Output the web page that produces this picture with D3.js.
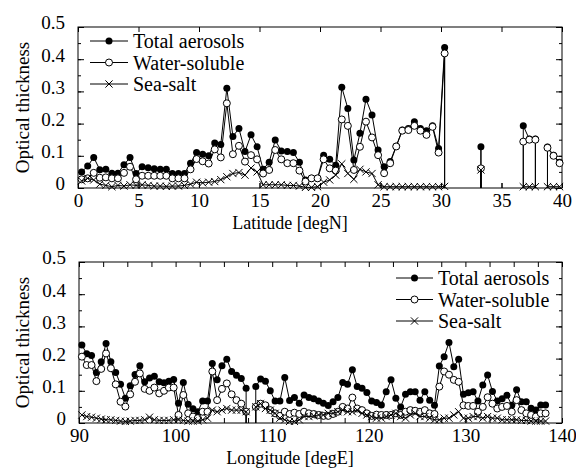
<!DOCTYPE html>
<html>
<head>
<meta charset="utf-8">
<script src="https://cdn.jsdelivr.net/npm/d3@7"></script>
<style>
  body { margin: 0; background: #fff; }
  svg text { font-family: "Liberation Serif", "Times New Roman", serif !important; fill: #000; }
</style>
</head>
<body>
<svg id="chart" width="576" height="475"></svg>
<script>
// ---- data: upper panel (latitude) ----
const latN = [0.3, 0.8, 1.3, 1.8, 2.3, 2.8, 3.3, 3.8, 4.3, 4.8,
  5.3, 5.8, 6.3, 6.8, 7.3, 7.8, 8.3, 8.8, 9.3, 9.8,
  10.3, 10.8, 11.3, 11.8, 12.3, 12.8, 13.3, 13.8, 14.3, 14.8,
  15.3, 15.8, 16.3, 16.8, 17.3, 17.8, 18.3, 18.8, 19.3, 19.8,
  20.3, 20.8, 21.3, 21.8, 22.3, 22.8, 23.3, 23.8, 24.3, 24.8,
  25.3, 25.8, 26.3, 26.8, 27.3, 27.8, 28.3, 28.8, 29.3, 29.8,
  30.3, 33.3, 36.8, 37.3, 37.8, 38.8, 39.3, 39.8];
const totalN = [0.05, 0.068, 0.095, 0.057, 0.058, 0.046, 0.046, 0.072, 0.095, 0.045,
  0.066, 0.063, 0.06, 0.058, 0.058, 0.045, 0.045, 0.045, 0.077, 0.11,
  0.105, 0.1, 0.14, 0.135, 0.31, 0.16, 0.185, 0.113, 0.165, 0.128,
  0.058, 0.08, 0.149, 0.115, 0.113, 0.11, 0.08, 0.025, 0.03, 0.03,
  0.102, 0.089, 0.071, 0.313, 0.247, 0.087, 0.17, 0.276, 0.227, 0.118,
  0.066, 0.082, 0.13, 0.18, 0.185, 0.206, 0.185, 0.178, 0.193, 0.123,
  0.436, 0.128, 0.193, 0.152, 0.152, 0.127, 0.102, 0.08];
const waterN = [0.027, 0.03, 0.047, 0.032, 0.033, 0.03, 0.03, 0.047, 0.066, 0.027,
  0.038, 0.038, 0.038, 0.038, 0.038, 0.03, 0.03, 0.03, 0.058, 0.09,
  0.083, 0.076, 0.12, 0.095, 0.263, 0.105, 0.131, 0.082, 0.102, 0.089,
  0.045, 0.056, 0.118, 0.089, 0.077, 0.077, 0.054, 0.02, 0.03, 0.03,
  0.089, 0.061, 0.054, 0.213, 0.193, 0.056, 0.128, 0.206, 0.157, 0.102,
  0.046, 0.077, 0.129, 0.178, 0.18, 0.193, 0.178, 0.165, 0.19, 0.11,
  0.418, 0.061, 0.144, 0.15, 0.15, 0.125, 0.1, 0.077];
const seaN = [0.022, 0.03, 0.025, 0.012, 0.008, 0.004, 0.008, 0.006, 0.01, 0.008,
  0.01, 0.008, 0.006, 0.006, 0.005, 0.006, 0.006, 0.008, 0.012, 0.018,
  0.016, 0.018, 0.02, 0.026, 0.035, 0.045, 0.048, 0.04, 0.062, 0.05,
  0.01, 0.01, 0.01, 0.01, 0.008, 0.008, 0.006, 0.002, 0.002, 0.004,
  0.018, 0.025, 0.04, 0.075, 0.045, 0.027, 0.058, 0.05, 0.045, 0.01,
  0.004, 0.004, 0.004, 0.004, 0.004, 0.004, 0.004, 0.004, 0.004, 0.004,
  0.005, 0.056, 0.004, 0.004, 0.004, 0.004, 0.004, 0.004];

// ---- data: lower panel (longitude) ----
const lonE = [90.3, 90.8, 91.3, 91.8, 92.3, 92.8, 93.3, 93.8, 94.3, 94.8,
  95.3, 95.8, 96.3, 96.8, 97.3, 97.8, 98.3, 98.8, 99.3, 99.8,
  100.3, 100.8, 101.3, 101.8, 102.3, 102.8, 103.3, 103.8, 104.3, 104.8,
  105.3, 105.8, 106.3, 106.8, 107.3,
  108.3, 108.8, 109.3, 109.8, 110.3, 110.8, 111.3, 111.8, 112.3, 112.8,
  113.3, 113.8, 114.3, 114.8, 115.3, 115.8, 116.3, 116.8, 117.3, 117.8,
  118.3, 118.8, 119.3, 119.8, 120.3, 120.8, 121.3, 121.8, 122.3, 122.8,
  123.3, 123.8, 124.3, 124.8, 125.3, 125.8, 126.3, 126.8, 127.3, 127.8,
  128.3, 128.8, 129.3, 129.8, 130.3, 130.8, 131.3, 131.8, 132.3, 132.8,
  133.3, 133.8, 134.3, 134.8, 135.3, 135.8, 136.3, 136.8, 137.3, 137.8, 138.3];
const totalE = [0.242, 0.215, 0.21, 0.157, 0.19, 0.247, 0.19, 0.157, 0.12, 0.077,
  0.116, 0.151, 0.178, 0.128, 0.14, 0.145, 0.128, 0.125, 0.13, 0.135,
  0.061, 0.126, 0.058, 0.044, 0.035, 0.068, 0.068, 0.185, 0.134, 0.178,
  0.198, 0.16, 0.148, 0.138, 0.108,
  0.113, 0.137, 0.13, 0.1, 0.068, 0.068, 0.141, 0.07, 0.079, 0.061,
  0.087, 0.079, 0.075, 0.068, 0.061, 0.054, 0.066, 0.079, 0.126, 0.12,
  0.165, 0.113, 0.108, 0.095, 0.068, 0.064, 0.056, 0.097, 0.134, 0.077,
  0.05, 0.089, 0.097, 0.097, 0.071, 0.097, 0.071, 0.055, 0.177, 0.206,
  0.25, 0.175, 0.198, 0.089, 0.094, 0.097, 0.068, 0.118, 0.149, 0.098,
  0.068, 0.075, 0.086, 0.055, 0.103, 0.066, 0.066, 0.046, 0.04, 0.056, 0.056];
const waterE = [0.206, 0.18, 0.18, 0.13, 0.168, 0.216, 0.17, 0.12, 0.066, 0.051,
  0.089, 0.128, 0.154, 0.106, 0.1, 0.11, 0.092, 0.1, 0.11, 0.11,
  0.025, 0.087, 0.03, 0.02, 0.015, 0.035, 0.035, 0.16, 0.071, 0.106,
  0.123, 0.089, 0.071, 0.06, 0.035,
  0.05, 0.06, 0.055, 0.04, 0.03, 0.022, 0.035, 0.028, 0.032, 0.028,
  0.035, 0.03, 0.028, 0.025, 0.022, 0.022, 0.028, 0.035, 0.05, 0.045,
  0.079, 0.045, 0.04, 0.03, 0.022, 0.026, 0.025, 0.025, 0.025, 0.03,
  0.025, 0.035, 0.04, 0.038, 0.035, 0.04, 0.03, 0.028, 0.113, 0.16,
  0.15, 0.134, 0.128, 0.055, 0.053, 0.053, 0.035, 0.05, 0.08, 0.06,
  0.045, 0.05, 0.053, 0.035, 0.071, 0.04, 0.03, 0.025, 0.02, 0.03, 0.03];
const seaE = [0.025, 0.02, 0.018, 0.015, 0.012, 0.01, 0.01, 0.008, 0.006, 0.005,
  0.006, 0.008, 0.008, 0.01, 0.018, 0.01, 0.008, 0.008, 0.008, 0.01,
  0.01, 0.008, 0.006, 0.006, 0.006, 0.01, 0.015, 0.04, 0.035, 0.04,
  0.045, 0.04, 0.04, 0.04, 0.035,
  0.05, 0.06, 0.045, 0.04, 0.03, 0.015, 0.01, 0.005, 0.005, 0.01,
  0.02, 0.02, 0.022, 0.025, 0.025, 0.03, 0.03, 0.035, 0.04, 0.035,
  0.035, 0.04, 0.03, 0.025, 0.02, 0.015, 0.015, 0.02, 0.025, 0.03,
  0.02, 0.015, 0.025, 0.03, 0.02, 0.02, 0.015, 0.01, 0.01, 0.015,
  0.015, 0.025, 0.035, 0.015, 0.015, 0.02, 0.02, 0.015, 0.02, 0.015,
  0.015, 0.01, 0.01, 0.01, 0.01, 0.008, 0.008, 0.006, 0.006, 0.006, 0.006];

// ---- ticks and labels ----
const latTicks = [0, 5, 10, 15, 20, 25, 30, 35, 40];
const lonTicks = [90, 100, 110, 120, 130, 140];
const yTicks = [0, 0.1, 0.2, 0.3, 0.4, 0.5];
const seriesNames = ["Total aerosols", "Water-soluble", "Sea-salt"];
const yTitle = "Optical thickness";
const serif = '"Liberation Serif", "Times New Roman", serif';

const svg = d3.select("#chart");

function marker(sel, kind) {
  if (kind === 0) {
    sel.append("circle").attr("r", 3.5).attr("fill", "#000");
  } else if (kind === 1) {
    sel.append("circle").attr("r", 3.5).attr("fill", "#fff")
      .attr("stroke", "#000").attr("stroke-width", 1);
  } else {
    sel.append("path").attr("d", "M-3.6,-3.6L3.6,3.6M-3.6,3.6L3.6,-3.6")
      .attr("stroke", "#000").attr("stroke-width", 1).attr("fill", "none");
  }
}

function drawPanel(cfg) {
  const w = cfg.right - cfg.left, h = cfg.bottom - cfg.top;
  const g = svg.append("g").attr("transform", `translate(${cfg.left},${cfg.top})`);

  const x = d3.scaleLinear().domain(cfg.xDomain).range([0, w]);
  const y = d3.scaleLinear().domain([0, 0.5]).range([h, 0]);

  // axes: ticks inward on all four sides
  const minorX = d3.range(cfg.xDomain[0], cfg.xDomain[1] + 0.001, cfg.xMinor);
  const minorY = d3.range(0, 0.5001, 0.05);

  g.append("g").attr("transform", `translate(0,${h})`)
    .call(d3.axisBottom(x).tickValues(minorX).tickSizeInner(-5).tickSizeOuter(0).tickFormat(""));
  g.append("g").attr("class", "xlab").attr("transform", `translate(0,${h})`)
    .call(d3.axisBottom(x).tickValues(cfg.xTicks).tickSizeInner(-5).tickSizeOuter(0).tickPadding(6));
  g.append("g")
    .call(d3.axisTop(x).tickValues(minorX).tickSizeInner(-5).tickSizeOuter(0).tickFormat(""));

  g.append("g")
    .call(d3.axisLeft(y).tickValues(minorY).tickSizeInner(-3).tickSizeOuter(0).tickFormat(""));
  g.append("g").attr("class", "ylab")
    .call(d3.axisLeft(y).tickValues(yTicks).tickSizeInner(-6).tickSizeOuter(0).tickPadding(13)
      .tickFormat(d => d === 0 ? "0" : d3.format(".1f")(d)));
  g.append("g").attr("transform", `translate(${w},0)`)
    .call(d3.axisRight(y).tickValues(minorY).tickSizeInner(-3).tickSizeOuter(0).tickFormat(""));
  g.append("g").attr("transform", `translate(${w},0)`)
    .call(d3.axisRight(y).tickValues(yTicks).tickSizeInner(-6).tickSizeOuter(0).tickFormat(""));

  g.selectAll(".domain").remove();
  g.selectAll("g").attr("font-family", null).attr("font-size", null);
  g.selectAll(".tick line").attr("stroke", "#000").attr("stroke-width", 1);
  g.selectAll(".xlab text, .ylab text").style("font-size", "19px").style("font-family", serif);
  g.selectAll(".ylab text").attr("dy", "0.1em");

  g.append("rect").attr("width", w).attr("height", h)
    .attr("fill", "none").attr("stroke", "#000").attr("stroke-width", 1);

  // series: each run of neighbouring points is joined; a run drops to zero at a data gap
  const line = d3.line().x(d => x(d[0])).y(d => y(d[1]));
  cfg.series.forEach((vals, k) => {
    const pts = cfg.xs.map((v, i) => [v, vals[i]]);
    const runs = [];
    let cur = [pts[0]];
    for (let i = 1; i < pts.length; i++) {
      if (pts[i][0] - pts[i - 1][0] > 0.75) { runs.push(cur); cur = []; }
      cur.push(pts[i]);
    }
    runs.push(cur);
    runs.forEach((run, r) => {
      const path = run.slice();
      if (r > 0) path.unshift([run[0][0], 0]);
      if (r < runs.length - 1) path.push([run[run.length - 1][0], 0]);
      g.append("path").attr("d", line(path))
        .attr("fill", "none").attr("stroke", "#000").attr("stroke-width", 1);
    });
    g.append("g").selectAll("g").data(pts).join("g")
      .attr("transform", d => `translate(${x(d[0])},${y(d[1])})`)
      .each(function () { marker(d3.select(this), k); });
  });

  // legend
  seriesNames.forEach((name, k) => {
    const ly = cfg.legend.y + k * cfg.legend.dy;
    const lg = g.append("g");
    lg.append("line").attr("x1", cfg.legend.x0).attr("x2", cfg.legend.x1)
      .attr("y1", ly).attr("y2", ly).attr("stroke", "#000").attr("stroke-width", 1);
    const m = lg.append("g").attr("transform", `translate(${(cfg.legend.x0 + cfg.legend.x1) / 2},${ly})`);
    marker(m, k);
    lg.append("text").attr("x", cfg.legend.x1 + 5).attr("y", ly)
      .attr("dy", "0.35em").style("font-size", "20px").style("font-family", serif).text(name);
  });

  // axis titles
  g.append("text").attr("x", 290 - cfg.left).attr("y", h + 41)
    .attr("text-anchor", "middle").style("font-size", "18px").style("font-family", serif)
    .text(cfg.xTitle);
  g.append("text")
    .attr("transform", `translate(${22 - cfg.left},${h / 2}) rotate(-90)`)
    .attr("text-anchor", "middle").attr("dy", "0.35em")
    .style("font-size", "19px").style("font-family", serif).text(yTitle);
}

drawPanel({
  left: 78, right: 562, top: 27, bottom: 188,
  xDomain: [0, 40], xMinor: 5, xTicks: latTicks,
  xs: latN, series: [totalN, waterN, seaN],
  xTitle: "Latitude [degN]",
  legend: { x0: 12, x1: 50, y: 14, dy: 21.5 }
});

drawPanel({
  left: 79, right: 562, top: 262, bottom: 423,
  xDomain: [90, 140], xMinor: 2.5, xTicks: lonTicks,
  xs: lonE, series: [totalE, waterE, seaE],
  xTitle: "Longitude [degE]",
  legend: { x0: 317, x1: 354, y: 16, dy: 21.5 }
});
</script>
</body>
</html>
